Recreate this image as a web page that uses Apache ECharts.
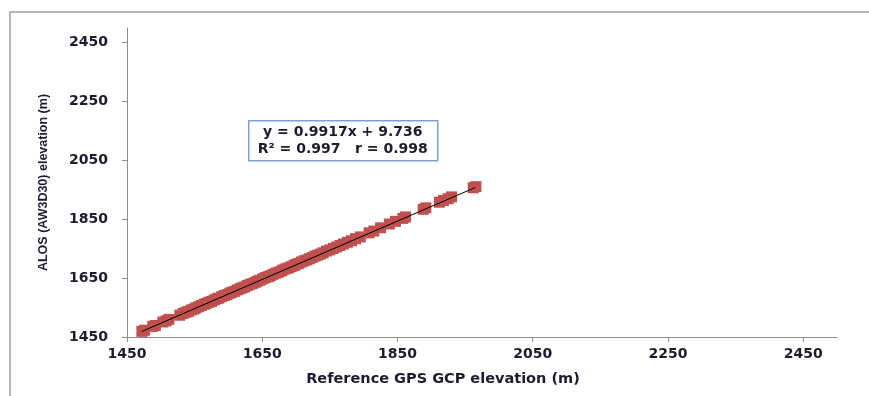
<!DOCTYPE html>
<html>
<head>
<meta charset="utf-8">
<script src="https://cdn.jsdelivr.net/npm/echarts@6/dist/echarts.min.js"></script>
<style>
  html, body { margin: 0; padding: 0; background: #fff; }
  #chart { width: 869px; height: 396px; }
</style>
</head>
<body>
<div id="chart"></div>
<script>
// reference GPS GCP elevation (m)
const gpsElev = [
  1472, 1476, 1488, 1492, 1503, 1508, 1512, 1528, 1533, 1537,
  1541, 1545, 1549, 1552, 1556, 1560, 1564, 1567, 1571, 1575,
  1579, 1583, 1586, 1590, 1594, 1598, 1602, 1605, 1609, 1613,
  1617, 1620, 1624, 1628, 1632, 1636, 1640, 1643, 1647, 1651,
  1655, 1659, 1662, 1666, 1670, 1674, 1678, 1681, 1685, 1689,
  1693, 1697, 1700, 1704, 1708, 1712, 1716, 1720, 1724, 1728,
  1732, 1736, 1740, 1745, 1750, 1755, 1760, 1765, 1770, 1776,
  1782, 1788, 1795, 1808, 1815, 1825, 1838, 1847, 1858, 1862,
  1888, 1892, 1912, 1918, 1925, 1930, 1962, 1966
];
// ALOS (AW3D30) elevation (m)
const alosElev = [
  1469, 1473, 1486, 1489, 1501, 1505, 1510, 1524, 1530, 1534,
  1537, 1542, 1545, 1549, 1553, 1557, 1561, 1564, 1568, 1571,
  1576, 1580, 1582, 1587, 1591, 1594, 1599, 1602, 1605, 1610,
  1614, 1617, 1620, 1625, 1629, 1632, 1636, 1640, 1643, 1648,
  1652, 1655, 1658, 1663, 1667, 1670, 1674, 1678, 1682, 1685,
  1689, 1693, 1697, 1700, 1705, 1709, 1712, 1716, 1720, 1725,
  1728, 1732, 1736, 1742, 1746, 1751, 1756, 1761, 1766, 1772,
  1777, 1784, 1790, 1804, 1810, 1821, 1834, 1843, 1853, 1858,
  1884, 1889, 1908, 1914, 1920, 1926, 1957, 1961
];
// trend line end points
const trendX = [1472, 1965];
const trendY = [1469, 1958];
const tickValues = [1450, 1650, 1850, 2050, 2250, 2450];
const eqLines = ['y = 0.9917x + 9.736', 'R\u00b2 = 0.997   r = 0.998'];

const textColor = '#1c1c30';
const axisColor = '#8c8c8c';
const font = 'DejaVu Sans';

const myChart = echarts.init(document.getElementById('chart'));

const labelStyle = (margin) => ({
  customValues: tickValues,
  formatter: (v) => String(v),
  color: textColor,
  fontFamily: font,
  fontWeight: 'bold',
  fontSize: 14,
  margin: margin
});

const makeAxis = (extra) => Object.assign({
  type: 'value',
  min: 1450,
  max: 2500,
  splitLine: { show: false },
  axisLine: { show: true, lineStyle: { color: axisColor, width: 1 } },
  axisTick: { show: true, length: 5, customValues: tickValues, lineStyle: { color: axisColor } },
  nameLocation: 'middle'
}, extra);

const option = {
  animation: false,
  backgroundColor: '#fff',
  grid: { left: 127, right: 32, top: 28, bottom: 59, containLabel: false },
  graphic: [
    {
      type: 'rect',
      shape: { x: 10, y: 12, width: 900, height: 500 },
      style: { fill: 'none', stroke: '#b4b4b4', lineWidth: 2 },
      z: -1,
      silent: true
    },
    {
      // equation box
      type: 'group',
      left: 248,
      top: 120,
      z: 10,
      children: [
        {
          type: 'rect',
          shape: { x: 0, y: 0, width: 189, height: 40 },
          style: { fill: '#fff', stroke: '#7f9fd0', lineWidth: 1.5 }
        },
        {
          type: 'text',
          x: 94,
          y: 20,
          style: {
            text: eqLines.join('\n'),
            align: 'center',
            verticalAlign: 'middle',
            fill: textColor,
            font: 'bold 14px "DejaVu Sans"',
            lineHeight: 17
          }
        }
      ]
    }
  ],
  xAxis: makeAxis({
    name: 'Reference GPS GCP elevation (m)',
    nameGap: 35,
    axisLabel: labelStyle(10),
    nameTextStyle: {
      color: textColor, fontFamily: font, fontWeight: 'bold', fontSize: 14.5,
      padding: [0, 78, 0, 0]
    }
  }),
  yAxis: makeAxis({
    name: 'ALOS (AW3D30) elevation (m)',
    nameGap: 77,
    axisLabel: labelStyle(19),
    nameTextStyle: {
      color: textColor, fontFamily: 'Liberation Sans', fontWeight: 'bold', fontSize: 12.5
    }
  }),
  series: [
    {
      type: 'scatter',
      symbol: 'rect',
      symbolSize: 11,
      data: gpsElev.map((x, i) => [x, alosElev[i]]),
      itemStyle: { color: '#c0504d', opacity: 1 }
    },
    {
      type: 'line',
      data: trendX.map((x, i) => [x, trendY[i]]),
      symbol: 'none',
      lineStyle: { color: '#000', width: 1 },
      z: 5
    }
  ]
};

myChart.setOption(option);
</script>
</body>
</html>
